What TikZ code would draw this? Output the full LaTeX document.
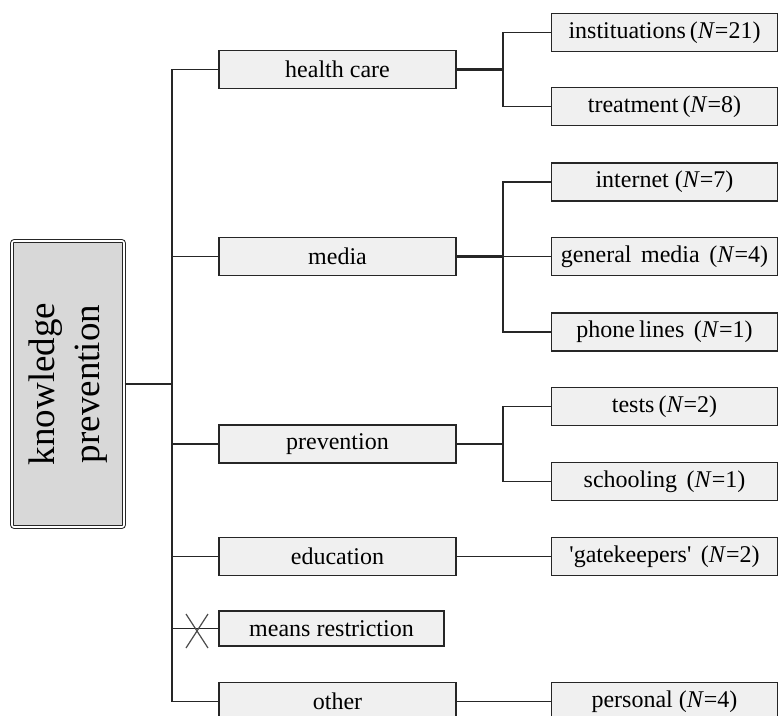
\documentclass[tikz,border=0pt]{standalone}
\usepackage{fontspec}
\setmainfont{Liberation Serif}
\definecolor{linec}{HTML}{262626}
\definecolor{boxfill}{HTML}{F0F0F0}
\definecolor{rootfill}{HTML}{D8D8D8}
\newcommand{\NN}{\textit{N}}
\begin{document}
\begin{tikzpicture}[x=1pt,y=-1pt,
  box/.style={draw=linec, fill=boxfill, line width=1.2pt, minimum width=237pt,
    minimum height=38pt, inner sep=0pt, font=\fontsize{24}{27}\selectfont, text=black},
  subbox/.style={box, minimum width=226pt},
  rootbox/.style={draw=linec, fill=rootfill, line width=1pt, double=white,
    double distance=1.6pt, rounded corners=2pt, minimum width=112pt,
    minimum height=286pt, inner sep=0pt},
  conn/.style={draw=linec, line width=1.4pt},
  thickconn/.style={draw=linec, line width=2.3pt},
  xmark/.style={draw=black!70, line width=1.2pt}]
\useasboundingbox (0,0) rectangle (779,715);
\clip (0,0) rectangle (779,715);

% root
\node[rootbox] (root) at (68,384) {\rotatebox{90}{\fontsize{37}{45}\selectfont\begin{tabular}{@{}c@{}}knowledge\\prevention\end{tabular}}};

% level 1
\node[box] (hc) at (337.5,69.5) {health care};
\node[box] (media) at (337.5,256.5) {media};
\node[box] (prev) at (337.5,444) {prevention};
\node[box] (edu) at (337.5,556.5) {education};
\node[box, minimum width=225pt, minimum height=35pt] (means) at (331.5,628.5) {means restriction};
\node[box] (other) at (337.5,701.5) {other};

% level 2
\node[subbox] (inst) at (664.5,32.5) {instituations\,(\NN=21)};
\node[subbox] (treat) at (664.5,106.5) {treatment\,(\NN=8)};
\node[subbox] (inet) at (664.5,182) {internet (\NN=7)};
\node[subbox] (gmed) at (664.5,256.5) {general\hspace{0.4em}media\hspace{0.4em}(\NN=4)};
\node[subbox] (phone) at (664.5,332) {phone\,lines\hspace{0.4em}(\NN=1)};
\node[subbox] (tests) at (664.5,406.5) {tests\,(\NN=2)};
\node[subbox] (school) at (664.5,481.5) {schooling\hspace{0.4em}(\NN=1)};
\node[subbox] (gate) at (664.5,556.5) {\textquotesingle gatekeepers\textquotesingle\hspace{0.4em}(\NN=2)};
\node[subbox] (pers) at (664.5,701.5) {personal (\NN=4)};

% trunk
\coordinate (tr) at (172,384);
\draw[conn] (root.east) -- (tr);
\draw[conn] (hc.west) -- (hc.west -| tr) -- (other.west -| tr) -- (other.west);
\draw[conn] (tr |- media.west) -- (media.west);
\draw[conn] (tr |- prev.west) -- (prev.west);
\draw[conn] (tr |- edu.west) -- (edu.west);
\draw[conn] (tr |- means.west) -- (means.west);
\draw[xmark] (186,614) -- (208,648) (208,614) -- (186,648);

% branches
\coordinate (br) at (503,0);
\draw[thickconn] (hc.east) -- (hc.east -| br);
\draw[conn] (inst.west) -- (inst.west -| br) -- (treat.west -| br) -- (treat.west);

\draw[thickconn] (media.east) -- (media.east -| br);
\draw[conn] (inet.west) -- (inet.west -| br) -- (phone.west -| br) -- (phone.west);
\draw[conn] (media.east -| br) -- (gmed.west);

\draw[thickconn] (prev.east) -- (prev.east -| br);
\draw[conn] (tests.west) -- (tests.west -| br) -- (school.west -| br) -- (school.west);

\draw[conn] (edu.east) -- (gate.west);
\draw[conn] (other.east) -- (pers.west);
\end{tikzpicture}
\end{document}
